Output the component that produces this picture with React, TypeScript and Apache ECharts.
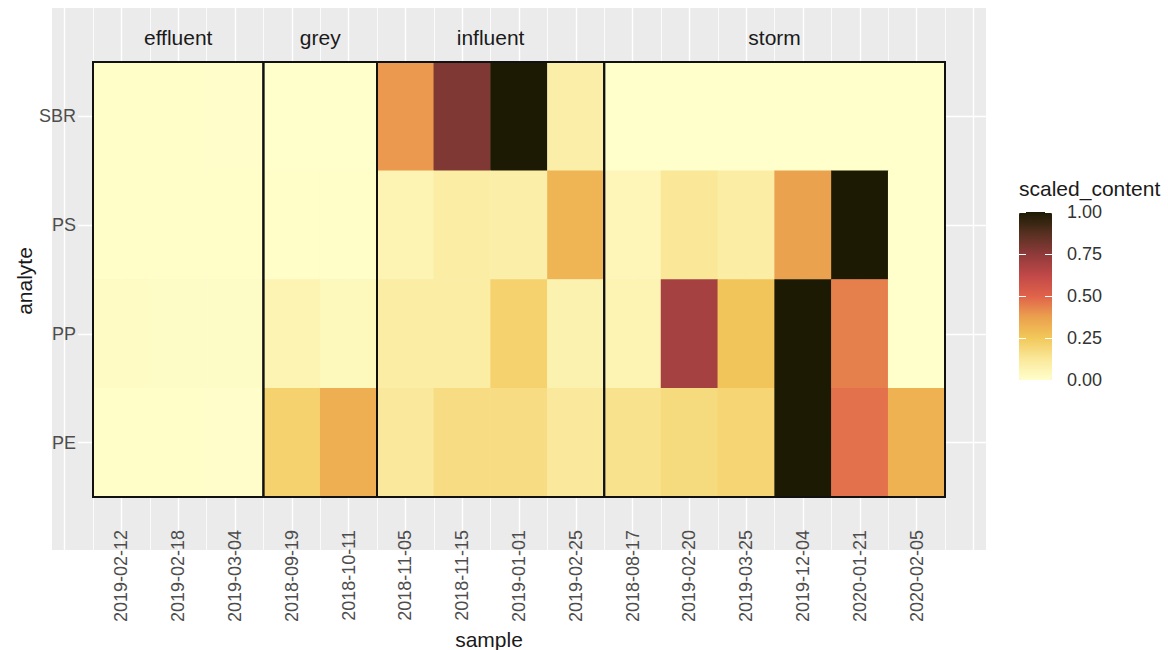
import React, { useEffect, useRef } from "react";
import * as echarts from "echarts";

// ---- data ----
const samples = [
  "2019-02-12", "2019-02-18", "2019-03-04",
  "2018-09-19", "2018-10-11",
  "2018-11-05", "2018-11-15", "2019-01-01", "2019-02-25",
  "2018-08-17", "2019-02-20", "2019-03-25", "2019-12-04", "2020-01-21", "2020-02-05",
];
const analytes = ["SBR", "PS", "PP", "PE"];
const groups = ["effluent", "grey", "influent", "storm"];
const groupSizes = [3, 2, 4, 6];

const sbr = [0.01, 0.01, 0.005, 0, 0, 0.39, 0.78, 1.0, 0.09, 0, 0, 0, 0, 0, 0];
const ps = [0.01, 0.01, 0.01, 0.01, 0.01, 0.06, 0.1, 0.09, 0.31, 0.05, 0.13, 0.1, 0.37, 1.0, 0];
const pp = [0.02, 0.015, 0.015, 0.06, 0.04, 0.1, 0.1, 0.21, 0.07, 0.06, 0.69, 0.26, 1.0, 0.44, 0];
const pe = [0.01, 0.01, 0.005, 0.21, 0.33, 0.12, 0.17, 0.17, 0.12, 0.15, 0.18, 0.2, 1.0, 0.47, 0.32];

const legendTicks = [0, 0.25, 0.5, 0.75, 1];
const colorStops = [
  "#FFFFCC", "#FAE89A", "#F2C85A", "#EBA04E", "#E0624A",
  "#C04848", "#8E3A3A", "#553020", "#1C1A03",
];

// ---- layout ----
const CELL_L = 93, CELL_T = 62, CELL_W = 852, CELL_H = 435;
const PANEL_L = 52, PANEL_T = 8, PANEL_W = 934, PANEL_H = 542;
const FONT = "'Liberation Sans', Arial, Helvetica, sans-serif";

export default function App() {
  const ref = useRef<HTMLDivElement>(null);

  useEffect(() => {
    document.body.style.margin = "0";
    if (!ref.current) return;
    const chart = echarts.init(ref.current, null, { renderer: "svg" });

    const colW = CELL_W / samples.length;
    const rowH = CELL_H / analytes.length;
    const rows = [sbr, ps, pp, pe];
    const heat: number[][] = [];
    rows.forEach((vals, r) => vals.forEach((v, c) => heat.push([c, r, v])));
    const starts: number[] = [];
    let acc = 0;
    groupSizes.forEach((s) => { starts.push(acc); acc += s; });

    const hidden = { show: false };
    const option: any = {
      animation: false,
      backgroundColor: "#ffffff",
      textStyle: { fontFamily: FONT },
      grid: [
        { left: PANEL_L, top: PANEL_T, width: PANEL_W, height: PANEL_H, show: true, backgroundColor: "#EBEBEB", borderWidth: 0, z: -1 },
        { left: 78, top: CELL_T - 0.5 * rowH, width: PANEL_L + PANEL_W - 78, height: 5 * rowH },
        { left: CELL_L - 0.5 * colW, top: PANEL_T, width: 16 * colW, height: PANEL_H },
        { left: CELL_L, top: CELL_T, width: CELL_W, height: CELL_H },
        { left: 1019, top: 212, width: 33, height: 168 },
      ],
      xAxis: [
        { type: "value", gridIndex: 0, ...hidden },
        { type: "value", gridIndex: 1, ...hidden },
        {
          type: "value", gridIndex: 2, min: -1, max: 15, interval: 1,
          axisLine: hidden, axisTick: hidden, axisLabel: hidden,
          splitLine: { show: true, lineStyle: { color: "#ffffff", width: 1.4 } },
          minorTick: { show: false, splitNumber: 2 },
          minorSplitLine: { show: true, lineStyle: { color: "#ffffff", width: 0.8 } },
        },
        {
          type: "category", gridIndex: 3, data: samples,
          axisLine: hidden, axisTick: hidden, splitLine: hidden,
          axisLabel: { rotate: 90, margin: 33, fontSize: 18, color: "#4d4d4d", fontFamily: FONT, interval: 0 },
        },
        { type: "value", gridIndex: 4, ...hidden },
      ],
      yAxis: [
        { type: "value", gridIndex: 0, ...hidden },
        {
          type: "value", gridIndex: 1, min: -1, max: 4, interval: 1, inverse: true,
          axisLine: hidden, axisTick: hidden, axisLabel: hidden,
          splitLine: { show: true, showMinLine: false, showMaxLine: false, lineStyle: { color: "#ffffff", width: 1.4 } },
        },
        { type: "value", gridIndex: 2, ...hidden },
        {
          type: "category", gridIndex: 3, data: analytes, inverse: true,
          axisLine: hidden, axisTick: hidden, splitLine: hidden,
          axisLabel: { margin: 17, fontSize: 18, color: "#4d4d4d", fontFamily: FONT },
        },
        {
          type: "value", gridIndex: 4, min: 0, max: 1, interval: 0.25, position: "left", z: 10,
          axisLine: hidden, axisLabel: hidden, splitLine: hidden,
          axisTick: { show: true, inside: true, length: 7, lineStyle: { color: "#ffffff", width: 1 } },
        },
        {
          type: "value", gridIndex: 4, min: 0, max: 1, interval: 0.25, position: "right", z: 10,
          axisLine: hidden, splitLine: hidden,
          axisTick: { show: true, inside: true, length: 7, lineStyle: { color: "#ffffff", width: 1 } },
          axisLabel: {
            show: true, margin: 15, fontSize: 18, color: "#333333", fontFamily: FONT,
            customValues: legendTicks,
            formatter: (v: number) => v.toFixed(2),
          },
        },
      ],
      visualMap: {
        type: "continuous", seriesIndex: 0, min: 0, max: 1,
        calculable: false, show: true, left: 1019, top: 212, itemWidth: 33, itemHeight: 168,
        padding: 0, text: null, showLabel: false, hoverLink: false,
        inRange: { color: colorStops },
      },
      series: [
        {
          type: "heatmap", xAxisIndex: 3, yAxisIndex: 3, data: heat,
          itemStyle: { borderWidth: 0 }, emphasis: { disabled: true },
        },
        {
          type: "custom", xAxisIndex: 3, yAxisIndex: 3, clip: false, silent: true, z: 5,
          data: starts.map((s) => [s, 0]),
          renderItem: (params: any, api: any) => {
            const i = params.dataIndex;
            const p = api.coord([api.value(0), 0]);
            const bw = api.size([1, 0])[0];
            const cs = params.coordSys;
            const x = p[0] - bw / 2;
            const w = groupSizes[i] * bw;
            return {
              type: "group",
              children: [
                { type: "rect", shape: { x, y: cs.y, width: w, height: cs.height }, style: { fill: "none", stroke: "#111111", lineWidth: 2 } },
                {
                  type: "text", x: x + w / 2, y: cs.y - 25,
                  style: { text: groups[i], fill: "#1a1a1a", font: `21px ${FONT}`, textAlign: "center", textVerticalAlign: "middle" },
                },
              ],
            };
          },
        },
      ],
      graphic: [
        { type: "text", left: 1019, top: 178, style: { text: "scaled_content", fill: "#1a1a1a", font: `21px ${FONT}` } },
        { type: "text", x: 489, y: 639, style: { text: "sample", fill: "#1a1a1a", font: `21px ${FONT}`, textAlign: "center", textVerticalAlign: "middle" } },
        { type: "text", x: 24, y: 281, rotation: Math.PI / 2, style: { text: "analyte", fill: "#1a1a1a", font: `21px ${FONT}`, textAlign: "center", textVerticalAlign: "middle" } },
      ],
    };

    chart.setOption(option);
    return () => chart.dispose();
  }, []);

  return <div ref={ref} style={{ width: 1168, height: 650 }} />;
}
